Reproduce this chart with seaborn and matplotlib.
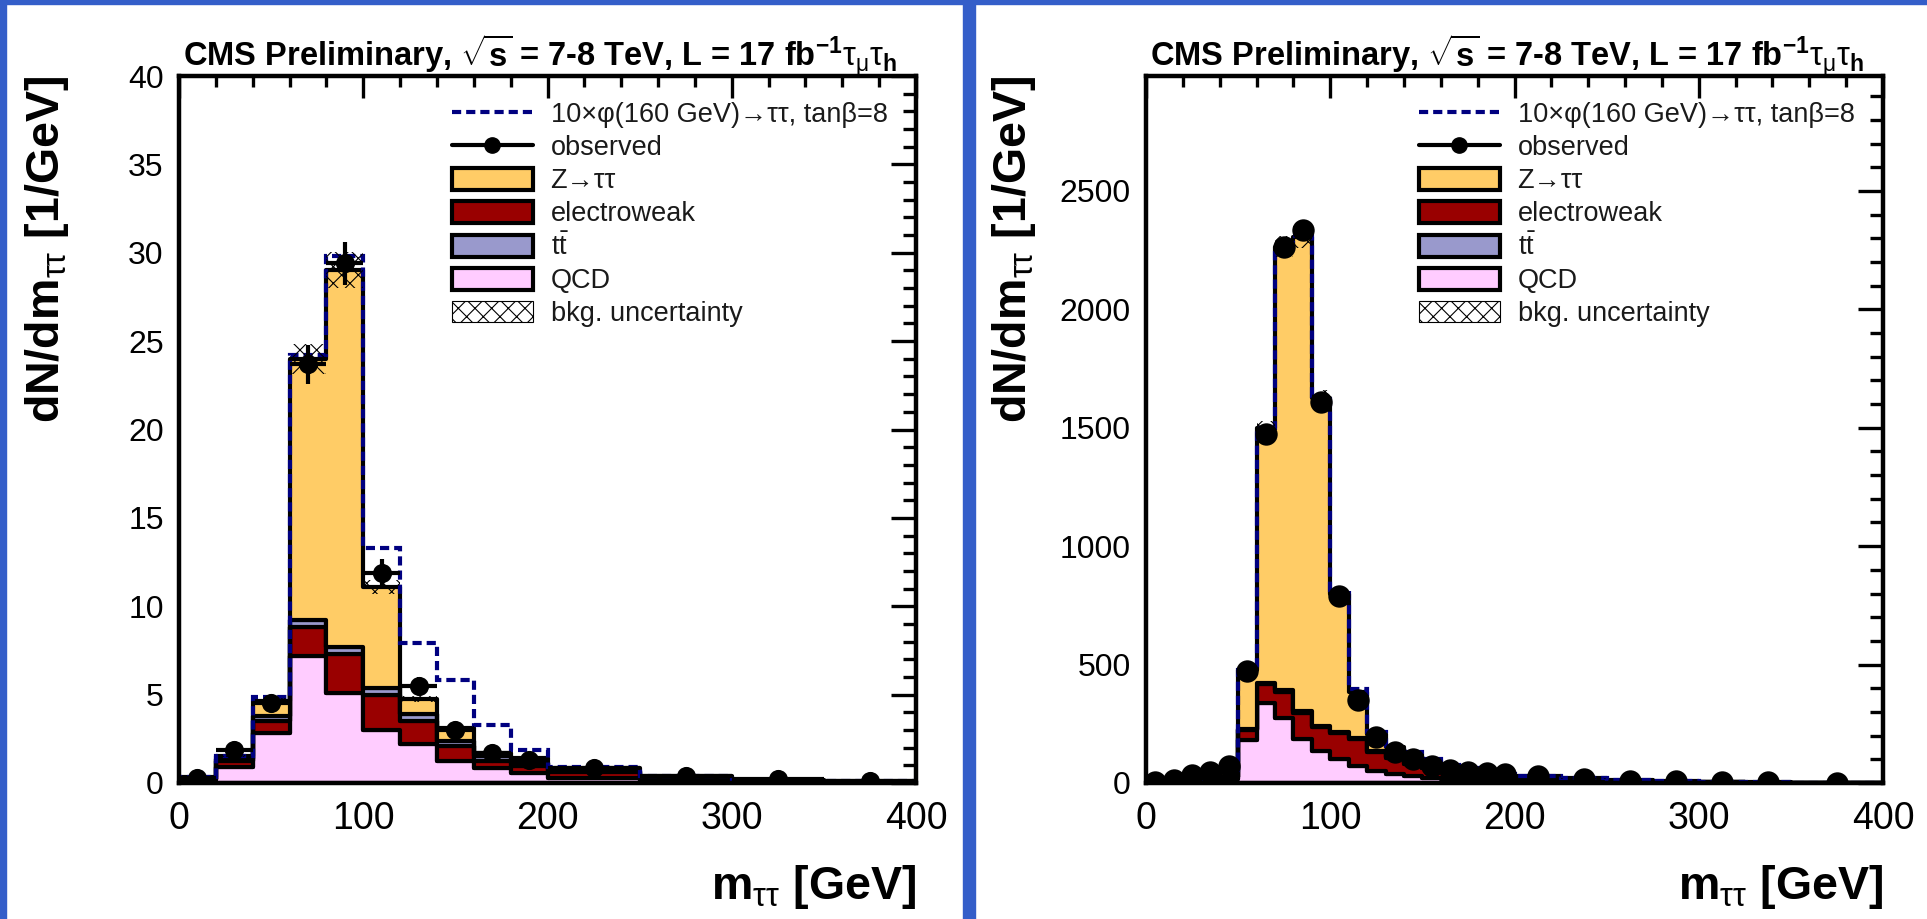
import numpy as np
import pandas as pd
import matplotlib
matplotlib.use("Agg")
import matplotlib.pyplot as plt
import seaborn as sns
from matplotlib.patches import Patch, Rectangle
from matplotlib.lines import Line2D
from matplotlib.ticker import MultipleLocator

# ---------------- data: left panel ----------------
edges_l = [0, 20, 40, 60, 80, 100, 120, 140, 160, 180, 200, 250, 300, 350, 400]
qcd_l = [0.15, 0.9, 2.85, 7.2, 5.1, 3.0, 2.2, 1.25, 0.85, 0.55, 0.3, 0.12, 0.05, 0.03]
ew_l = [0.05, 0.35, 0.65, 1.6, 2.2, 2.0, 1.3, 0.85, 0.4, 0.4, 0.3, 0.15, 0.06, 0.03]
tt_l = [0.0, 0.1, 0.3, 0.4, 0.4, 0.4, 0.4, 0.3, 0.25, 0.2, 0.1, 0.06, 0.03, 0.02]
ztt_l = [0.15, 0.2, 0.85, 14.8, 21.3, 5.7, 0.85, 0.7, 0.2, 0.25, 0.15, 0.07, 0.03, 0.02]
sig_l = [0.0, 0.0, 0.2, 0.2, 0.8, 2.2, 3.15, 2.75, 1.6, 0.45, 0.05, 0.02, 0.0, 0.0]
obs_l = [0.3, 1.85, 4.5, 23.7, 29.4, 11.9, 5.5, 3.0, 1.7, 1.3, 0.85, 0.4, 0.2, 0.1]
obs_err_l = [0.12, 0.3, 0.47, 1.1, 1.2, 0.77, 0.52, 0.39, 0.29, 0.25, 0.13, 0.09, 0.06, 0.045]
unc_l = 0.035

# ---------------- data: right panel ----------------
edges_r = [0, 10, 20, 30, 40, 50, 60, 70, 80, 90, 100, 110, 120, 130, 140, 150, 160,
           170, 180, 190, 200, 225, 250, 275, 300, 325, 350, 400]
qcd_r = [1, 3, 8, 12, 18, 181, 336, 274, 186, 136, 101, 73, 49, 38, 28, 21, 17, 13,
         10, 8, 5, 3, 2, 1.5, 1, 0.6, 0.4]
ew_r = [0.5, 1, 3, 5, 8, 44, 80, 111, 109, 99, 110, 113, 80, 68, 52, 41, 31, 25,
        21, 16, 12, 8, 5, 3, 2, 1.2, 0.8]
tt_r = [0, 0, 0.2, 0.5, 1, 3, 5, 7, 7, 6, 6, 5, 5, 4, 4, 3, 3, 2.5, 2, 2, 1.5, 1,
        0.6, 0.4, 0.2, 0.1, 0.1]
ztt_r = [0.5, 2, 6.8, 12.5, 28, 247, 1076, 1873, 2003, 1384, 581, 192, 71, 40, 38,
         30, 22, 18.5, 13, 12, 11.5, 7, 4.4, 3.1, 1.8, 1.1, 0.7]
sig_r = [0, 0, 0, 0, 0, 0, 0, 0, 5, 10, 15, 12, 10, 8, 8, 6, 5, 3, 2, 1, 0.5, 0,
         0, 0, 0, 0, 0]
obs_r = [3, 11, 33, 45, 73, 472, 1474, 2262, 2335, 1608, 788, 352, 193, 129, 101,
         73, 56, 45, 41, 38, 28, 17, 10, 7, 5, 3, 2]
unc_r = 0.02

# seaborn stacks the first hue level on top: Z on top, QCD at the bottom
processes = ["Z→ττ", "tt", "electroweak", "QCD"]
colors = {"Z→ττ": "#ffcc66", "electroweak": "#990000", "tt": "#9999cc", "QCD": "#ffccff"}
SIGCOL = "#000080"

sns.set_style("white")
plt.rcParams["font.family"] = ["Liberation Sans", "DejaVu Sans"]
plt.rcParams["mathtext.fontset"] = "custom"
plt.rcParams["mathtext.rm"] = "Liberation Sans"
plt.rcParams["mathtext.it"] = "Liberation Sans:italic"
plt.rcParams["mathtext.bf"] = "Liberation Sans:bold"
plt.rcParams["hatch.linewidth"] = 0.8
plt.rcParams["hatch.color"] = "black"
for k in ["text.color", "axes.labelcolor", "xtick.color", "ytick.color", "xtick.labelcolor",
          "ytick.labelcolor"]:
    plt.rcParams[k] = "black"

fig = plt.figure(figsize=(19.27, 9.19), dpi=100)
fig.patch.set_facecolor("white")
W, H = 1927.0, 919.0
blue = "#345ec9"
fig.patches.append(Rectangle((0, 0), 6 / W, 1, transform=fig.transFigure, color=blue, zorder=-5))
fig.patches.append(Rectangle((0, 1 - 4 / H), 1, 4 / H, transform=fig.transFigure, color=blue, zorder=-5))
fig.patches.append(Rectangle((963 / W, 0), 12 / W, 1, transform=fig.transFigure, color=blue, zorder=-5))

ax_l = fig.add_axes([179 / W, (H - 783) / H, 737 / W, 707 / H])
ax_r = fig.add_axes([1146 / W, (H - 783) / H, 737 / W, 707 / H])


def draw_panel(ax, edges, qcd, ew, tt, ztt, sig, obs, obs_err, unc, ymax, ymajor, yminor,
               msize, xerr_on):
    edges_a = np.asarray(edges, float)
    centers = 0.5 * (edges_a[:-1] + edges_a[1:])
    widths = np.diff(edges_a)
    comp = {"Z→ττ": ztt, "electroweak": ew, "tt": tt, "QCD": qcd}
    rows = []
    for p in processes:
        for c, v in zip(centers, comp[p]):
            rows.append({"m": float(c), "w": float(v), "process": p})
    df = pd.DataFrame(rows)
    sns.histplot(data=df, x="m", weights="w", hue="process", hue_order=processes,
                 bins=list(edges), multiple="stack", element="step", fill=True,
                 palette=colors, alpha=1, edgecolor="black", linewidth=3,
                 legend=False, ax=ax)
    total = np.array(qcd) + np.array(ew) + np.array(tt) + np.array(ztt)
    # signal on top of background (dashed)
    ax.stairs(total + np.array(sig), edges_a, color=SIGCOL, linestyle=(0, (2.2, 1.2)),
              linewidth=3, zorder=4)
    # background uncertainty band
    ax.bar(edges_a[:-1], 2 * unc * total, bottom=total * (1 - unc), width=widths,
           align="edge", fill=False, hatch="xx", linewidth=0, edgecolor="black", zorder=5)
    # observed
    if obs_err is not None:
        ax.errorbar(centers, obs, yerr=obs_err, xerr=(widths / 2 if xerr_on else None),
                    fmt="none", ecolor="black", elinewidth=3, capsize=0, zorder=6)
    sns.scatterplot(x=centers, y=obs, color="black", s=msize, edgecolor="black",
                    linewidth=0, zorder=7, ax=ax, legend=False)

    ax.set_xlim(0, 400)
    ax.set_ylim(0, ymax)
    ax.xaxis.set_major_locator(MultipleLocator(100))
    ax.xaxis.set_minor_locator(MultipleLocator(20))
    ax.yaxis.set_major_locator(MultipleLocator(ymajor))
    ax.yaxis.set_minor_locator(MultipleLocator(yminor))
    ax.tick_params(which="both", direction="in", top=True, right=True, color="black",
                   width=2.4)
    ax.tick_params(axis="y", which="major", length=18, labelsize=23, pad=11)
    ax.tick_params(axis="y", which="minor", length=9.5)
    ax.tick_params(axis="x", which="major", length=16, labelsize=27, pad=13)
    ax.tick_params(axis="x", which="minor", length=8)
    for s in ax.spines.values():
        s.set_linewidth(3.2)
        s.set_color("black")
        s.set_zorder(10)
    ax.set_facecolor("white")

    ax.set_xlabel(r"m$_{\mathrm{\tau\tau}}$ [GeV]", fontsize=33.5, fontweight="bold",
                  loc="right")
    ax.xaxis.set_label_coords(1.0, -0.113)
    ax.set_ylabel(r"dN/dm$_{\mathrm{\tau\tau}}$ [1/GeV]", fontsize=33.5, fontweight="bold",
                  loc="top")
    ax.yaxis.set_label_coords(-0.146, 1.0)

    ax.text(0.4905, 0.995,
            r"CMS Preliminary, $\sqrt{\mathbf{s}}$ = 7-8 TeV, L = 17 fb$^{\mathbf{-1}}$$\mathrm{\tau_{\mu}\tau}_{\mathbf{h}}$",
            transform=ax.transAxes, ha="center", va="bottom", fontsize=23.5,
            fontweight="bold")

    handles = [
        Line2D([], [], color=SIGCOL, linestyle=(0, (2.2, 1.2)), linewidth=3),
        Line2D([], [], color="black", linewidth=3, marker="o", markersize=11),
        Patch(facecolor=colors["Z→ττ"], edgecolor="black", linewidth=3),
        Patch(facecolor=colors["electroweak"], edgecolor="black", linewidth=3),
        Patch(facecolor=colors["tt"], edgecolor="black", linewidth=3),
        Patch(facecolor=colors["QCD"], edgecolor="black", linewidth=3),
        Patch(facecolor="white", edgecolor="black", linewidth=0.8, hatch="xx"),
    ]
    labels = ["10×φ(160 GeV)→ττ, tanβ=8", "observed", "Z→ττ", "electroweak",
              r"t$\bar{\mathrm{t}}$", "QCD", "bkg. uncertainty"]
    leg = ax.legend(handles, labels, loc="upper left", bbox_to_anchor=(0.37, 0.963),
                    frameon=False, fontsize=19.5, handlelength=2.99, handleheight=0.85,
                    labelspacing=0.25, handletextpad=0.66, borderaxespad=0, borderpad=0)
    for t in leg.get_texts():
        t.set_color("#1a1a1a")


draw_panel(ax_l, edges_l, qcd_l, ew_l, tt_l, ztt_l, sig_l, obs_l, obs_err_l, unc_l,
           40, 5, 1, 190, True)
draw_panel(ax_r, edges_r, qcd_r, ew_r, tt_r, ztt_r, sig_r, obs_r, None, unc_r,
           2985, 500, 100, 260, False)

fig.savefig("out.png", dpi=100)
